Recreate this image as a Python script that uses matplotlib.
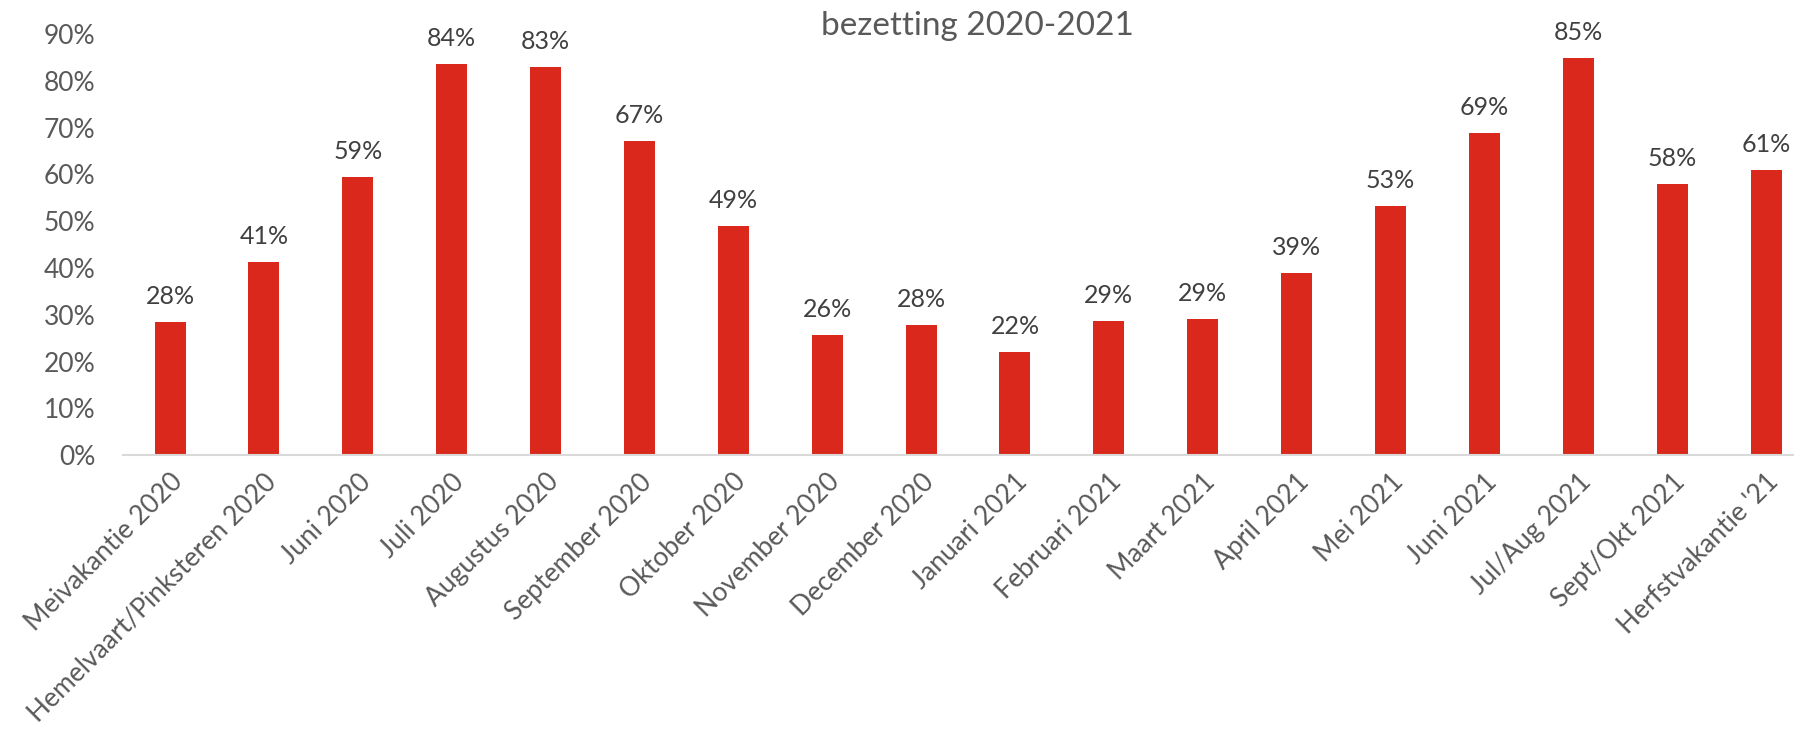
import matplotlib.pyplot as plt
import numpy as np
from matplotlib.ticker import PercentFormatter

plt.rcParams['font.family'] = ['Lato', 'DejaVu Sans']

categories = ["Meivakantie 2020", "Hemelvaart/Pinksteren 2020", "Juni 2020", "Juli 2020",
              "Augustus 2020", "September 2020", "Oktober 2020", "November 2020",
              "December 2020", "Januari 2021", "Februari 2021", "Maart 2021",
              "April 2021", "Mei 2021", "Juni 2021", "Jul/Aug 2021", "Sept/Okt 2021",
              "Herfstvakantie '21"]
bezetting = [0.284, 0.413, 0.594, 0.836, 0.829, 0.672, 0.490, 0.257, 0.278,
             0.220, 0.287, 0.291, 0.390, 0.532, 0.688, 0.848, 0.580, 0.609]

fig = plt.figure(figsize=(17.94, 7.32), dpi=100)
ax = fig.add_axes([0.0686, 0.378, 0.942, 0.5756])

x = np.arange(len(categories))
bars = ax.bar(x, bezetting, width=0.33, color='#DA291C')

for b, v in zip(bars, bezetting):
    ax.annotate(f"{round(v * 100):.0f}%", (b.get_x() + b.get_width() / 2, v),
                xytext=(0, 10), textcoords='offset points', ha='center', va='bottom',
                fontsize=18, color='#404040')

ax.set_xlim(-0.5, len(categories) - 0.5)
ax.set_ylim(0, 0.9)
ax.set_yticks(np.arange(0, 0.91, 0.1))
ax.yaxis.set_major_formatter(PercentFormatter(1.0, decimals=0))
ax.set_xticks(x)
ax.set_xticklabels(categories, rotation=45, ha='right', rotation_mode='anchor')
ax.tick_params(axis='both', length=0, labelsize=19, colors='#595959')
ax.tick_params(axis='y', pad=20)
ax.tick_params(axis='x', pad=10)

for s in ['top', 'right', 'left']:
    ax.spines[s].set_visible(False)
ax.spines['bottom'].set_color('#D9D9D9')
ax.spines['bottom'].set_linewidth(1.5)

fig.text(0.545, 0.965, "bezetting 2020-2021", ha='center', va='center',
         fontsize=24, color='#595959')

fig.savefig('out.png', dpi=100)
